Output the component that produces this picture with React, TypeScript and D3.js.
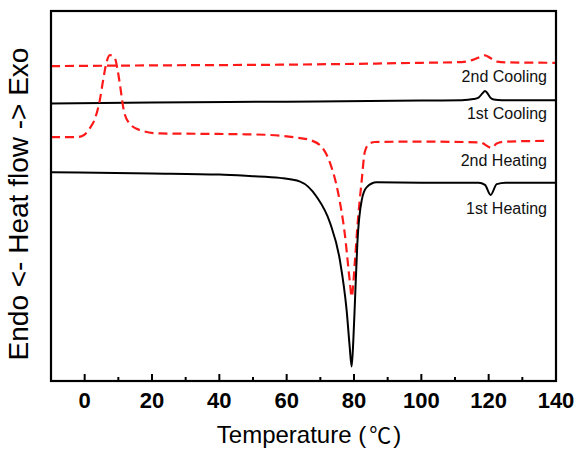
import React from "react";
import * as d3 from "d3";

// temperature (°C) vs heat flow (arbitrary units)
const cooling2: [number, number][] = [
  [-10, 85.1], [20, 85.3], [60, 85.5], [100, 86.0], [112, 86.2], [115.3, 86.8],
  [117.5, 87.6], [118.9, 88.0], [120.5, 87.3], [122.5, 86.3], [126, 86.1], [140, 86.0],
];

const cooling1: [number, number][] = [
  [-10, 75.0], [20, 75.3], [60, 75.5], [100, 75.8], [112, 75.9], [115.5, 76.2],
  [117, 76.6], [118.2, 77.8], [118.9, 78.4], [119.6, 77.8], [120.5, 76.6],
  [121.5, 76.1], [124, 75.9], [140, 75.9],
];

const heating2: [number, number][] = [
  [-10, 65.9], [-3, 65.9], [-1, 66.1], [1.6, 68.4], [3.1, 71.0], [4.5, 75.9],
  [5.5, 81.4], [6.3, 85.4], [7.5, 88.1], [9.0, 87.2], [9.7, 84.5], [10.5, 80.0],
  [11.5, 73.7], [12.9, 70.1], [16.4, 67.8], [22.4, 66.9], [36, 66.8], [46, 66.7],
  [55, 66.5], [62, 65.9], [67.4, 65.0], [71.1, 62.4], [72.9, 58.9], [75.3, 50.8],
  [77.3, 39.5], [78.8, 26.5], [79.3, 22.8], [80.3, 32.7], [81.0, 41.6], [82.3, 54.3],
  [83.2, 61.9], [84.5, 64.1], [86.2, 64.6], [100, 64.7],
  [117.4, 64.5], [120.9, 63.0], [122.4, 64.2], [125, 64.7], [137.2, 64.9],
];

const heating1: [number, number][] = [
  [-10, 56.4], [20, 56.1], [40, 55.8], [49, 55.4], [58, 54.9], [64, 53.9],
  [68.9, 49.8], [72.9, 42.7], [75.8, 32.7], [77.8, 19.2], [78.7, 9.5], [79.3, 3.9],
  [79.8, 11.0], [80.3, 21.9], [81.0, 37.3], [82.3, 48.9], [83.8, 52.4], [86.7, 53.7],
  [100, 53.6], [117, 53.6], [118.9, 53.0], [120.6, 50.3], [122.4, 53.2], [125, 53.6],
  [140, 53.6],
];

const curveLabels = ["2nd Cooling", "1st Cooling", "2nd Heating", "1st Heating"];

const width = 578;
const height = 451;
const margin = { top: 11, right: 22, bottom: 70, left: 51 };

export default function App() {
  const x = d3.scaleLinear().domain([-10, 140]).range([margin.left, width - margin.right]);
  const y = d3.scaleLinear().domain([0, 100]).range([height - margin.bottom, margin.top]);

  const line = d3.line<[number, number]>()
    .x(d => x(d[0]))
    .y(d => y(d[1]))
    .curve(d3.curveMonotoneX);

  const bottom = height - margin.bottom;
  const majors = d3.range(0, 141, 20);
  const minors = d3.range(10, 140, 20);
  const font = "Arial, 'Liberation Sans', sans-serif";

  const series = [
    { data: cooling2, dashed: true },
    { data: cooling1, dashed: false },
    { data: heating2, dashed: true },
    { data: heating1, dashed: false },
  ];
  const labelY = [82, 119, 166, 214];

  return (
    <div style={{ position: "absolute", left: 0, top: 0 }}>
      <svg width={width} height={height} style={{ display: "block", background: "#fff" }}>
        {series.map((s, i) => (
          <path
            key={i}
            d={line(s.data) || ""}
            fill="none"
            stroke={s.dashed ? "#ff1a1a" : "#000"}
            strokeWidth={s.dashed ? 2.2 : 2}
            strokeDasharray={s.dashed ? "9,5" : undefined}
          />
        ))}

        {curveLabels.map((t, i) => (
          <text key={t} x={547} y={labelY[i]} textAnchor="end" fontFamily={font} fontSize={16} fill="#111">
            {t}
          </text>
        ))}

        <rect
          x={margin.left}
          y={margin.top}
          width={width - margin.left - margin.right}
          height={height - margin.top - margin.bottom}
          fill="none"
          stroke="#000"
          strokeWidth={2.2}
        />

        {majors.map(t => (
          <line key={"M" + t} x1={x(t)} x2={x(t)} y1={bottom} y2={bottom - 7} stroke="#000" strokeWidth={2} />
        ))}
        {minors.map(t => (
          <line key={"m" + t} x1={x(t)} x2={x(t)} y1={bottom} y2={bottom - 4} stroke="#000" strokeWidth={2} />
        ))}
        {majors.map(t => (
          <text key={"l" + t} x={x(t)} y={408} textAnchor="middle" fontFamily={font} fontWeight="bold" fontSize={22}>
            {t}
          </text>
        ))}

        <text x={309} y={443} textAnchor="middle" fontFamily={font} fontSize={24}>
          Temperature (<tspan dx={3} fontFamily="'Noto Sans CJK SC'" fontSize={22}>℃</tspan><tspan dx={2}>)</tspan>
        </text>
        <text
          transform="translate(28,204) rotate(-90)"
          textAnchor="middle"
          fontFamily={font}
          fontSize={28}
        >
          Endo &lt;- Heat flow -&gt; Exo
        </text>
      </svg>
    </div>
  );
}
